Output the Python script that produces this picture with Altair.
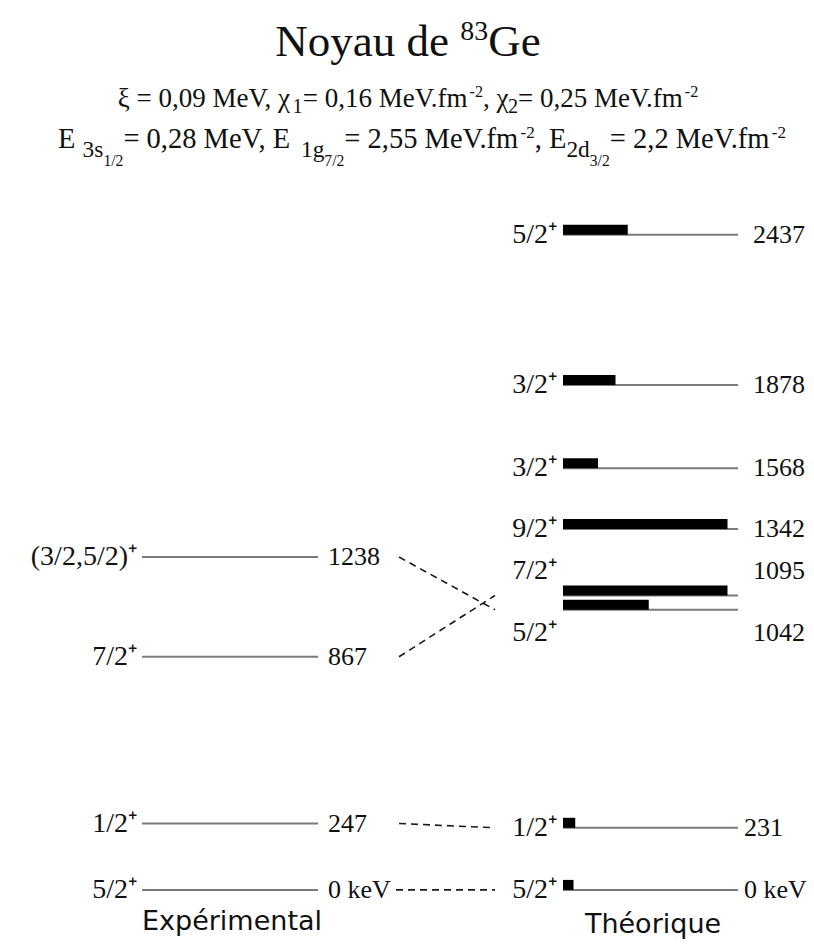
import altair as alt
import pandas as pd

# ---------------- data ----------------
exp_energy = [0, 247, 867, 1238]
exp_spin = ["5/2⁺", "1/2⁺", "7/2⁺", "(3/2,5/2)⁺"]
exp_text = ["0 keV", "247", "867", "1238"]

th_energy = [0, 231, 1042, 1095, 1342, 1568, 1878, 2437]
th_spin = ["5/2⁺", "1/2⁺", "5/2⁺", "7/2⁺", "9/2⁺", "3/2⁺", "3/2⁺", "5/2⁺"]
th_text = ["0 keV", "231", "1042", "1095", "1342", "1568", "1878", "2437"]
th_bar = [6, 7, 49, 94, 94, 20, 30, 37]  # black bar length, % of level line

link_from = [0, 247, 1238, 867]
link_to = [0, 231, 1042, 1095]

# (text, size factor, rise in em, kern in em)
title_segments = [("Noyau de ", 1.0, 0.0, 0.0), ("83", 0.62, 0.36, 0.0), ("Ge", 1.0, 0.0, 0.0)]
line1_segments = [
    ("ξ = 0,09 MeV, χ", 1.0, 0.0, 0.0), ("1", 0.75, -0.22, -0.1),
    (" = 0,16 MeV.fm", 1.0, 0.0, 0.0), ("-2", 0.6, 0.36, -0.3),
    (", χ", 1.0, 0.0, 0.0), ("2", 0.75, -0.22, -0.1),
    (" = 0,25 MeV.fm", 1.0, 0.0, 0.0), ("-2", 0.6, 0.36, -0.3),
]
line2_segments = [
    ("E ", 1.0, 0.0, 0.0), ("3s", 0.82, -0.3, 0.0), ("1/2", 0.55, -0.62, 0.0),
    ("= 0,28 MeV, E ", 1.0, 0.0, 0.0), ("1g", 0.82, -0.3, 0.0), ("7/2", 0.55, -0.62, 0.0),
    (" = 2,55 MeV.fm", 1.0, 0.0, 0.0), ("-2", 0.6, 0.36, -0.3),
    (", E", 1.0, 0.0, 0.0), ("2d", 0.82, -0.3, 0.0), ("3/2", 0.55, -0.62, 0.0),
    (" = 2,2 MeV.fm", 1.0, 0.0, 0.0), ("-2", 0.6, 0.36, -0.3),
]
footer = ["Expérimental", "Théorique"]

# ---------------- layout ----------------
OFF = 8
W, H = 814 - 2 * OFF, 949 - 2 * OFF
SERIF = "Liberation Serif"
SANS = "DejaVu Sans"
INK = "#111111"

EXP_X0, EXP_X1 = 142, 318
TH_X0, TH_X1 = 563, 738
LINK_X1 = 495

yscale = alt.Scale(domain=[-190, 3280], nice=False, zero=False)

TIMES = {' ': 250, ',': 250, '.': 250, '=': 564, '-': 333, '/': 278, '(': 333,
         ')': 333, '+': 564, 'E': 611, 'M': 889, 'V': 722, 'N': 722, 'G': 722,
         'a': 444, 'd': 500, 'e': 444, 'f': 333, 'g': 500, 'k': 500, 'm': 778,
         'o': 500, 's': 389, 'u': 500, 'y': 500, 'ξ': 440, 'χ': 520}


def seg_width(t, size):
    return sum(TIMES.get(c, 500) for c in t) / 1000.0 * size


def layout(segments, cx, baseline, base):
    total = sum(seg_width(t, base * s) + k * base for t, s, _, k in segments)
    x = cx - total / 2.0
    rows = []
    for t, s, rise, k in segments:
        x += k * base
        rows.append(dict(text=t, x=x - OFF, y=baseline - rise * base - OFF, size=base * s))
        x += seg_width(t, base * s)
    return rows


ann = pd.DataFrame(
    layout(title_segments, 408, 56, 45)
    + layout(line1_segments, 408, 107, 27)
    + layout(line2_segments, 422, 148, 28.5)
)

exp_df = pd.DataFrame({"E": exp_energy, "spin": exp_spin, "lab": exp_text})
th_df = pd.DataFrame({"E": th_energy, "spin": th_spin, "lab": th_text, "w": th_bar})
link_df = pd.DataFrame({"e1": link_from, "e2": link_to})

Y = alt.Y("E:Q", scale=yscale, axis=None)

exp_lines = alt.Chart(exp_df).mark_rule(color="#7a7a7a", strokeWidth=2).encode(
    x=alt.value(EXP_X0 - OFF), x2=alt.value(EXP_X1 - OFF), y=Y)
th_lines = alt.Chart(th_df).mark_rule(color="#7a7a7a", strokeWidth=2).encode(
    x=alt.value(TH_X0 - OFF), x2=alt.value(TH_X1 - OFF), y=Y)
th_bars = alt.Chart(th_df).transform_calculate(start="0").mark_rule(
    color="black", strokeWidth=10, yOffset=-5).encode(
    x=alt.X("start:Q", scale=alt.Scale(domain=[0, 100], range=[TH_X0 - OFF, TH_X1 - OFF]), axis=None),
    x2="w:Q", y=Y)

links = alt.Chart(link_df).transform_calculate(
    xa=f"datum.e1 == 0 ? {396 - OFF} : {399 - OFF}", xb=f"{LINK_X1 - OFF}"
).mark_rule(color="#1a1a1a", strokeWidth=1.6, strokeDash=[7, 5]).encode(
    x=alt.X("xa:Q", scale=None, axis=None), x2="xb:Q",
    y=alt.Y("e1:Q", scale=yscale, axis=None), y2="e2:Q")


def labels(df, field, xexpr, align, size, dy=0, flt=None):
    c = alt.Chart(df)
    if flt is not None:
        c = c.transform_filter(flt)
    c = c.transform_calculate(xx=xexpr)
    return c.mark_text(align=align, baseline="middle", font=SERIF, fontSize=size,
                       color=INK, dy=dy).encode(
        x=alt.X("xx:Q", scale=None, axis=None), y=Y, text=f"{field}:N")


normal = "datum.E != 1042 && datum.E != 1095"
th_lab_x = f"datum.E < 300 ? {744 - OFF} : {753 - OFF}"
exp_spin_t = labels(exp_df, "spin", f"{137 - OFF}", "right", 28)
exp_lab_t = labels(exp_df, "lab", f"{328 - OFF}", "left", 26)
th_spin_t = labels(th_df, "spin", f"{557 - OFF}", "right", 28, 0, normal)
th_lab_t = labels(th_df, "lab", th_lab_x, "left", 26, 0, normal)
th_spin_up = labels(th_df, "spin", f"{557 - OFF}", "right", 28, -24, "datum.E == 1095")
th_lab_up = labels(th_df, "lab", th_lab_x, "left", 26, -24, "datum.E == 1095")
th_spin_dn = labels(th_df, "spin", f"{557 - OFF}", "right", 28, 23, "datum.E == 1042")
th_lab_dn = labels(th_df, "lab", th_lab_x, "left", 26, 23, "datum.E == 1042")

head = alt.Chart(ann).mark_text(align="left", baseline="alphabetic", font=SERIF, color=INK).encode(
    x=alt.X("x:Q", scale=None, axis=None),
    y=alt.Y("y:Q", scale=None, axis=None),
    size=alt.Size("size:Q", scale=None, legend=None),
    text="text:N")

foot_df = pd.DataFrame({"t": footer, "x": [232 - OFF, 653 - OFF], "y": [922 - OFF, 925 - OFF]})
foot = alt.Chart(foot_df).mark_text(align="center", baseline="middle", font=SANS, fontSize=27,
                                    color=INK).encode(
    x=alt.X("x:Q", scale=None, axis=None),
    y=alt.Y("y:Q", scale=None, axis=None),
    text="t:N")

chart = alt.layer(
    exp_lines, th_lines, th_bars, links,
    exp_spin_t, exp_lab_t, th_spin_t, th_lab_t, th_spin_up, th_lab_up, th_spin_dn, th_lab_dn,
    head, foot,
).resolve_scale(x="independent", y="independent", size="independent").properties(
    width=W, height=H, padding=0, autosize=alt.AutoSizeParams(type="none"),
    background="white",
).configure_view(strokeOpacity=0)

chart.save("out.html", embed_options={"renderer": "svg", "actions": False})
